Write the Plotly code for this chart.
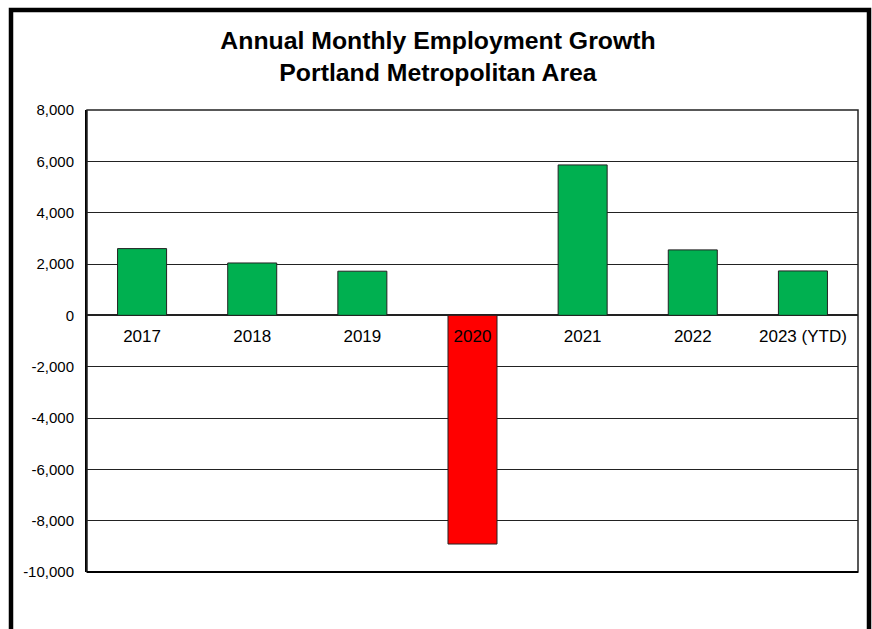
import plotly.graph_objects as go

# ---- data ----
years = ["2017", "2018", "2019", "2020", "2021", "2022", "2023 (YTD)"]
growth = [2600, 2040, 1720, -8910, 5860, 2550, 1730]
y_tick_values = [8000, 6000, 4000, 2000, 0, -2000, -4000, -6000, -8000, -10000]
y_tick_labels = ["8,000", "6,000", "4,000", "2,000", "0", "-2,000", "-4,000",
                 "-6,000", "-8,000", "-10,000"]
title_text = "Annual Monthly Employment Growth<br>Portland Metropolitan Area"

GREEN = "#00B050"
RED = "#FF0000"
bar_colors = [GREEN if v >= 0 else RED for v in growth]

W, H = 872, 629
ML, MR, MT, MB = 87, 14, 110, 57
PW, PH = W - ML - MR, H - MT - MB
FONT = "Arial, 'Liberation Sans', sans-serif"

def px_x(p):
    return (p - ML) / PW

def px_y(p):
    return (H - MB - p) / PH

fig = go.Figure(go.Bar(
    x=years, y=growth,
    marker=dict(color=bar_colors, line=dict(color="#222222", width=1)),
    width=0.445,
))

ymin, ymax = -10000, 8000

fig.update_layout(
    width=W, height=H,
    margin=dict(l=ML, r=MR, t=MT, b=MB),
    paper_bgcolor="white", plot_bgcolor="white",
    showlegend=False,
    font=dict(family=FONT, color="black"),
    title=dict(text="<b>" + title_text + "</b>", x=438 / W, xanchor="center",
               y=1 - 49 / H, yanchor="top",
               font=dict(size=24.8, family=FONT, color="black")),
    xaxis=dict(
        type="category",
        anchor="free", position=(0 - ymin) / (ymax - ymin),
        showline=False, showgrid=False, zeroline=False,
        ticks="", tickfont=dict(size=17, family=FONT, color="black"),
        ticklabelstandoff=9,
    ),
    yaxis=dict(
        range=[ymin, ymax],
        tickvals=y_tick_values, ticktext=y_tick_labels,
        showgrid=True, gridcolor="#222222", gridwidth=1.3,
        zeroline=True, zerolinecolor="#222222", zerolinewidth=1.5,
        showline=True, linecolor="black", linewidth=2,
        ticks="", tickfont=dict(size=15, family=FONT, color="black"),
        ticklabelstandoff=8,
    ),
    shapes=[
        # plot frame
        dict(type="rect", xref="paper", yref="paper", x0=0, x1=1, y0=0, y1=1,
             line=dict(color="#222222", width=1.5), layer="above"),
        dict(type="line", xref="paper", yref="paper", x0=0, x1=1, y0=0, y1=0,
             line=dict(color="black", width=2.2), layer="above"),
        # outer chart border
        dict(type="rect", xref="paper", yref="paper",
             x0=px_x(11), x1=px_x(869), y0=px_y(680), y1=px_y(10),
             line=dict(color="black", width=4.5), layer="above"),
    ],
)

fig.write_html(
    "out.html",
    config={"displayModeBar": False},
    post_script="document.body.style.margin='0';document.body.style.overflow='hidden';",
)
